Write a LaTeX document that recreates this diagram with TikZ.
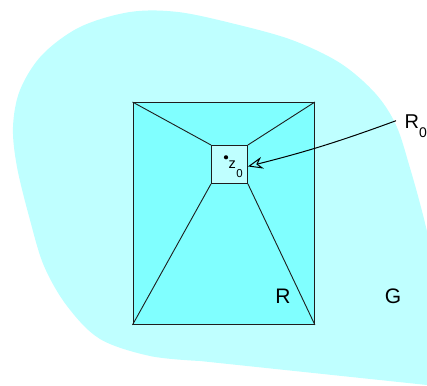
\documentclass[tikz,border=0pt]{standalone}
\usepackage{fontspec}
\setmainfont{Liberation Sans}
\usetikzlibrary{arrows.meta}
\definecolor{blobc}{HTML}{BFFFFF}
\definecolor{rectc}{HTML}{80FFFF}
\definecolor{linec}{HTML}{1E1E1E}
\tikzset{
  edge/.style={draw=linec, line width=0.9pt},
  biglabel/.style={font=\fontsize{21}{25}\selectfont, inner sep=0pt},
}
\begin{document}
\begin{tikzpicture}[x=1pt,y=-1pt]
\useasboundingbox (0,0) rectangle (427,385);
\begin{scope}
\clip (0,0) rectangle (427,385);
\fill[blobc] plot[smooth, tension=0.55] coordinates {
 (200,361) (150,356) (100,339) (67,306) (44,266) (30,220) (17,167) (13,127) (20,90)
 (42,55) (80,27) (130,12) (178,12) (235,24) (292,40) (340,63) (375,93)
 (396,125) (410,168) (423,215) (436,270) (450,330)} -- (470,330) -- (470,395) -- (427,385) -- cycle;
\end{scope}
\node[edge, fill=rectc, minimum width=181.5pt, minimum height=222pt, inner sep=0pt, anchor=north west] (outer) at (132.5,102) {};
\node[edge, fill=blobc, minimum width=36pt, minimum height=38pt, inner sep=0pt, anchor=north west] (sq) at (211,145) {};
\draw[edge] (outer.north west) -- (sq.north west);
\draw[edge] (outer.north east) -- (sq.north east);
\draw[edge] (outer.south west) -- (sq.south west);
\draw[edge] (outer.south east) -- (sq.south east);
\fill[black] (226,157.3) circle (2.1pt) coordinate (z0dot);
\node[font=\fontsize{14.5}{16}\selectfont, inner sep=0pt, anchor=base west] (z0) at (228.5,168) {z\kern0.3pt\raisebox{-9pt}{\fontsize{11.5}{11.5}\selectfont 0}};
\node[font=\fontsize{20}{24}\selectfont, inner sep=0pt, anchor=base west] (R0) at (404.5,128) {R\raisebox{-9pt}{\fontsize{14}{14}\selectfont 0}};
\node[biglabel, anchor=base] (R) at (283,303) {R};
\node[biglabel, anchor=base] (G) at (393,303) {G};
\coordinate (R0tail) at (396,120.7);
\draw[black, line width=1pt, -{Stealth[open, length=15pt, width=12pt, inset=5pt, line width=1pt]}] (R0tail) to[bend left=3] ([yshift=-2pt]sq.east);
\end{tikzpicture}
\end{document}
